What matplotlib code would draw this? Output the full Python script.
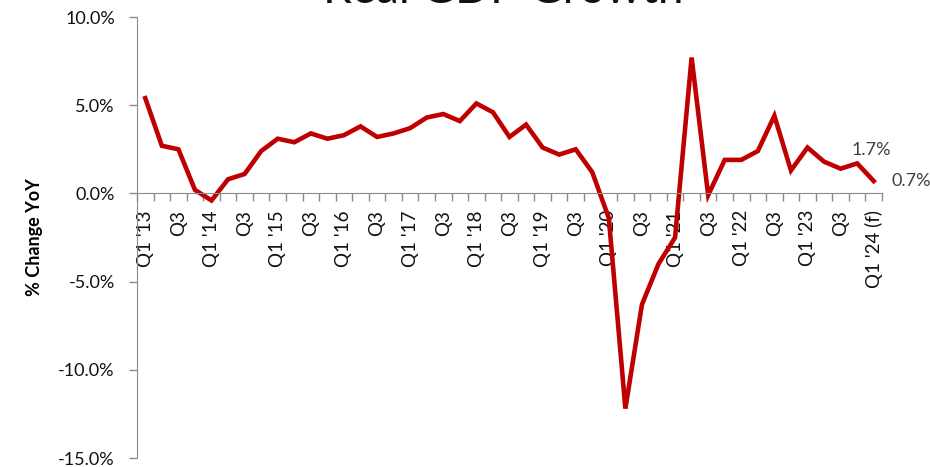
import matplotlib
matplotlib.use("Agg")
import matplotlib.pyplot as plt
from matplotlib.ticker import FixedLocator

# ============================================================
# DADOS
# ============================================================

trimestres = [
    "Q1 '13", "Q2", "Q3", "Q4",
    "Q1 '14", "Q2", "Q3", "Q4",
    "Q1 '15", "Q2", "Q3", "Q4",
    "Q1 '16", "Q2", "Q3", "Q4",
    "Q1 '17", "Q2", "Q3", "Q4",
    "Q1 '18", "Q2", "Q3", "Q4",
    "Q1 '19", "Q2", "Q3", "Q4",
    "Q1 '20", "Q2", "Q3", "Q4",
    "Q1 '21", "Q2", "Q3", "Q4",
    "Q1 '22", "Q2", "Q3", "Q4",
    "Q1 '23", "Q2", "Q3", "Q4",
    "Q1 '24 (f)",
]

pib_yoy = [
    5.4, 2.7, 2.5, 0.2,
    -0.4, 0.8, 1.1, 2.4,
    3.1, 2.9, 3.4, 3.1,
    3.3, 3.8, 3.2, 3.4,
    3.7, 4.3, 4.5, 4.1,
    5.1, 4.6, 3.2, 3.9,
    2.6, 2.2, 2.5, 1.2,
    -1.4, -12.2, -6.3, -4.0,
    -2.5, 7.7, -0.1, 1.9,
    1.9, 2.4, 4.4, 1.3,
    2.6, 1.8, 1.4, 1.7,
    0.7,
]

y_ticks = [-15, -10, -5, 0, 5, 10]

# ============================================================
# FIGURA
# ============================================================

plt.rcParams["font.family"] = ["Lato", "DejaVu Sans"]

fig = plt.figure(figsize=(9.3, 4.67), dpi=100)
ax = fig.add_axes([137 / 930, 1 - 458 / 467, 745 / 930, 441 / 467])

x = list(range(len(trimestres)))

ax.plot(x, pib_yoy, color="#C00000", lw=3.3, solid_joinstyle="miter")

ax.set_xlim(-0.5, len(trimestres) - 0.5)
ax.set_ylim(-15, 10)

# ============================================================
# EIXOS
# ============================================================

for lado in ["top", "right"]:
    ax.spines[lado].set_visible(False)

ax.spines["left"].set_color("#8C8C8C")
ax.spines["bottom"].set_color("#8C8C8C")
ax.spines["bottom"].set_position(("data", 0))

ax.set_yticks(y_ticks)
ax.set_yticklabels([f"{v:.1f}%" for v in y_ticks], fontsize=13, color="#111111")
ax.tick_params(axis="y", length=6, width=1, color="#8C8C8C", pad=10)

# rótulos a cada 2 trimestres, marcas entre categorias
rotulos_pos = [i for i in x if i % 2 == 0]
ax.set_xticks(rotulos_pos)
ax.set_xticklabels([trimestres[i] for i in rotulos_pos], rotation=90,
                   fontsize=13.5, color="#111111")
ax.tick_params(axis="x", which="major", length=0, pad=12)

ax.xaxis.set_minor_locator(FixedLocator([i + 0.5 for i in range(-1, len(x))]))
ax.tick_params(axis="x", which="minor", length=6, width=1, color="#8C8C8C")

ax.set_ylabel("% Change YoY", fontsize=13, fontweight="bold")
ax.yaxis.set_label_coords(-0.126, 0.5)

# ============================================================
# RÓTULOS FINAIS
# ============================================================

ax.annotate(f"{pib_yoy[-2]:.1f}%", (x[-2], pib_yoy[-2]), xytext=(14, 5),
            textcoords="offset pixels", ha="center", va="bottom",
            fontsize=13, color="#404040")
ax.annotate(f"{pib_yoy[-1]:.1f}%", (x[-1], pib_yoy[-1]), xytext=(18, 0),
            textcoords="offset pixels", ha="left", va="center",
            fontsize=13, color="#404040", annotation_clip=False)

# título (cortado no topo, como no original)
fig.text(503 / 930, 1 - 3 / 467, "Real GDP Growth", ha="center",
         va="baseline", fontsize=33, color="#111111")

fig.savefig("out.png", dpi=100)
